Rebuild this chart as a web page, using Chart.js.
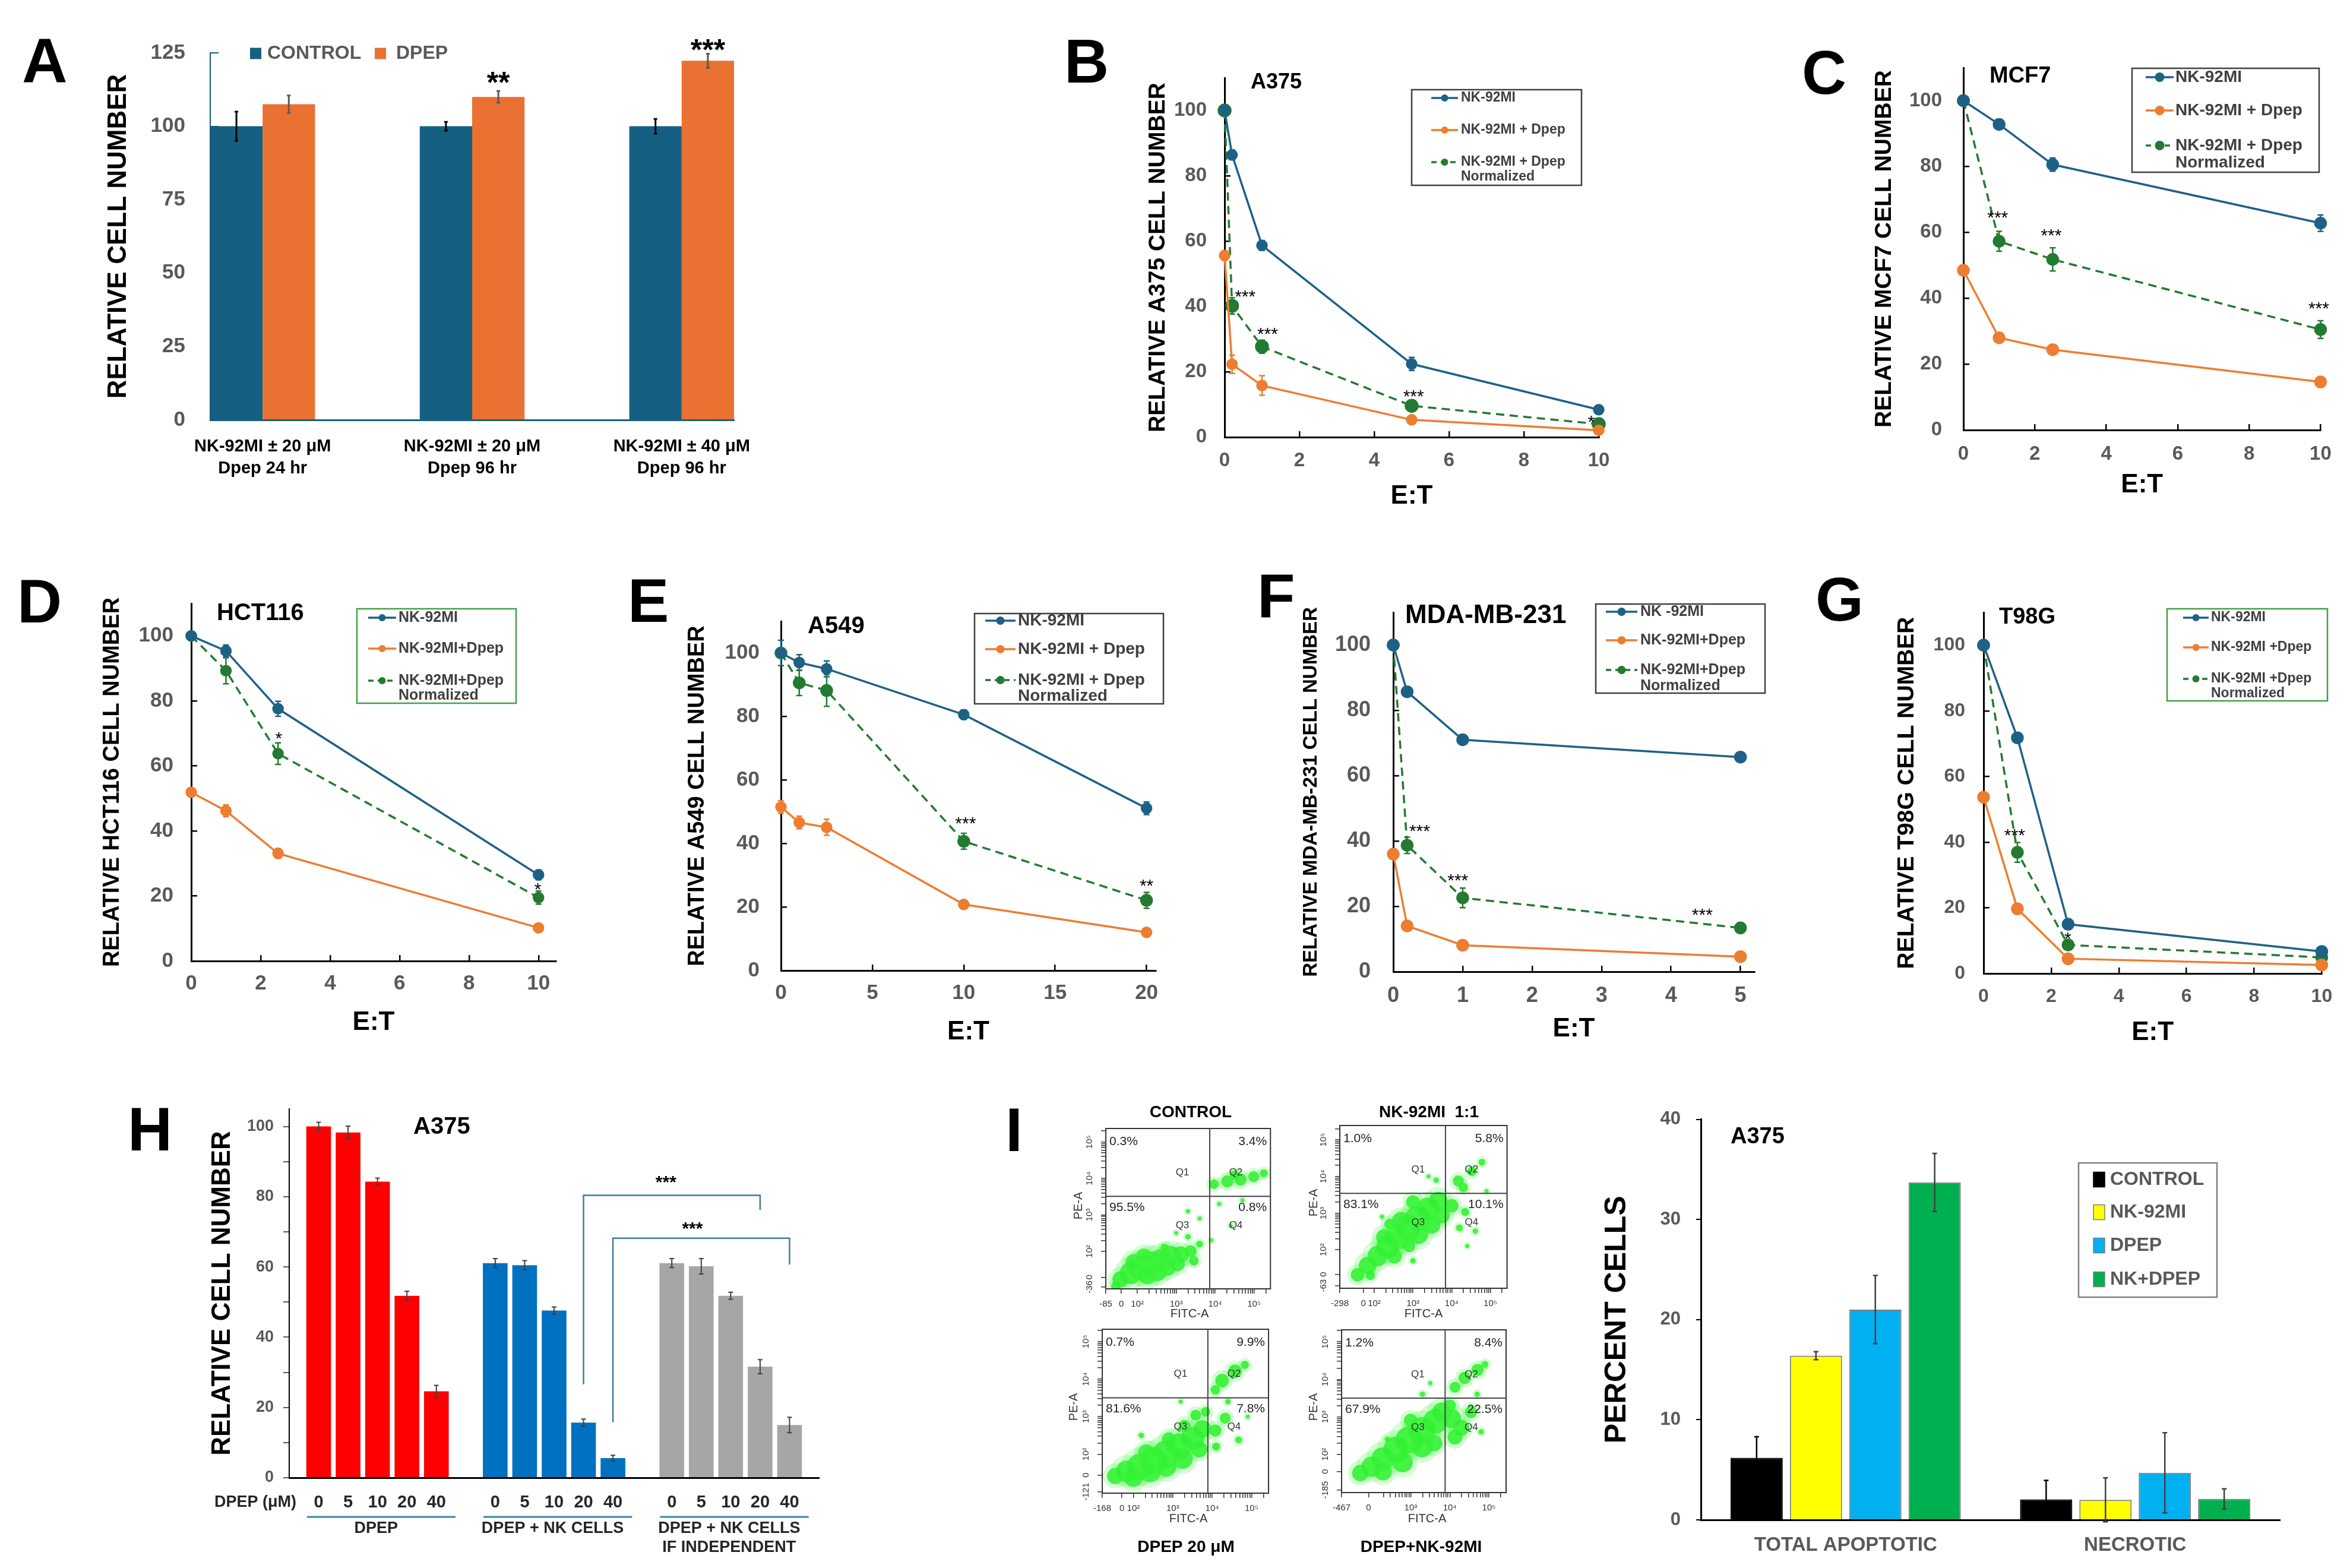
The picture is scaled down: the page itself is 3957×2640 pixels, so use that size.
<!DOCTYPE html>
<html><head><meta charset="utf-8"><title>Figure</title>
<script src="https://cdn.jsdelivr.net/npm/chart.js@4.4.1/dist/chart.umd.min.js"></script>
<style>
html,body{margin:0;padding:0;background:#fff;}
#fig{position:relative;width:3957px;height:2640px;background:#fff;overflow:hidden;}
#fig canvas{position:absolute;}
</style></head><body><div id="fig"></div>
<script>
// ======================= DATA =======================
// ---- Panel A ----
const aCategories = [['NK-92MI ± 20 μM','Dpep 24 hr'],['NK-92MI ± 20 μM','Dpep 96 hr'],['NK-92MI ± 40 μM','Dpep 96 hr']];
const aSeriesNames = ['CONTROL','DPEP'];
const aControl = [100, 100, 100];
const aControlErr = [5, 1.5, 2.5];
const aDpep = [107.5, 110, 122.3];
const aDpepErr = [3, 2, 2.4];
const aStars = [{x:1.125, y:116.5, t:'**'}, {x:2.125, y:127.6, t:'***'}];

// ---- Panel B (A375) ----
const bX = [0, 0.2, 1, 5, 10];
const bNK = [100, 86.4, 58.7, 22.4, 8.4];
const bNKErr = [0, 1.5, 1.5, 2, 1];
const bNKD = [55.6, 22.3, 15.8, 5.3, 2.1];
const bNKDErr = [1.5, 2.8, 3, 1, 0.5];
const bNorm = [100, 40.2, 27.7, 9.6, 4.0];
const bNormErr = [0, 2.5, 2, 1, 1];
const bLegend = [['NK-92MI'], ['NK-92MI + Dpep'], ['NK-92MI + Dpep', 'Normalized']];
const bStars = [{x:0.55, y:44, t:'***'}, {x:1.15, y:32.5, t:'***'}, {x:5.05, y:13.5, t:'***'}, {x:9.8, y:5.7, t:'*'}];

// ---- Panel C (MCF7) ----
const cX = [0, 1, 2.5, 10];
const cNK = [100, 92.8, 80.6, 62.8];
const cNKErr = [0, 1.5, 2, 2.5];
const cNKD = [48.5, 28, 24.4, 14.6];
const cNKDErr = [1, 1, 1.2, 0.8];
const cNorm = [100, 57.3, 51.8, 30.5];
const cNormErr = [0, 3, 3.5, 2.7];
const cLegend = [['NK-92MI'], ['NK-92MI + Dpep'], ['NK-92MI + Dpep', 'Normalized']];
const cStars = [{x:0.96, y:65.4, t:'***'}, {x:2.46, y:60.1, t:'***'}, {x:9.95, y:37.9, t:'***'}];

// ---- Panel D (HCT116) ----
const dX = [0, 1, 2.5, 10];
const dNK = [100, 95.4, 77.6, 26.5];
const dNKErr = [0, 1.8, 2.3, 1.5];
const dNKD = [51.9, 46.2, 33.1, 10.2];
const dNKDErr = [0.8, 1.8, 1.5, 0.8];
const dNorm = [100, 89.3, 63.8, 19.5];
const dNormErr = [0, 4, 3.3, 2];
const dLegend = [['NK-92MI'], ['NK-92MI+Dpep'], ['NK-92MI+Dpep', 'Normalized']];
const dStars = [{x:2.52, y:69.5, t:'*'}, {x:9.98, y:23, t:'*'}];

// ---- Panel E (A549) ----
const eX = [0, 1, 2.5, 10, 20];
const eNK = [100, 97, 95, 80.6, 51.1];
const eNKErr = [4, 2.5, 2.5, 1.5, 2];
const eNKD = [51.5, 46.6, 45.1, 20.8, 12];
const eNKDErr = [2, 2, 2.5, 1, 0.8];
const eNorm = [100, 90.6, 88.2, 40.7, 22.1];
const eNormErr = [0, 4, 5, 2.5, 2.5];
const eLegend = [['NK-92MI'], ['NK-92MI + Dpep'], ['NK-92MI + Dpep', 'Normalized']];
const eStars = [{x:10.1, y:47.3, t:'***'}, {x:20, y:27.7, t:'**'}];

// ---- Panel F (MDA-MB-231) ----
const fX = [0, 0.2, 1, 5];
const fNK = [100, 85.7, 71, 65.7];
const fNKErr = [0, 1.5, 0.8, 0.8];
const fNKD = [36, 14, 8.1, 4.6];
const fNKDErr = [1.5, 0.8, 0.8, 0.5];
const fNorm = [100, 38.7, 22.6, 13.4];
const fNormErr = [0, 2.5, 3, 1.5];
const fLegend = [['NK -92MI'], ['NK-92MI+Dpep'], ['NK-92MI+Dpep', 'Normalized']];
const fStars = [{x:0.38, y:43.9, t:'***'}, {x:0.93, y:28.8, t:'***'}, {x:4.45, y:18.3, t:'***'}];

// ---- Panel G (T98G) ----
const gX = [0, 1, 2.5, 10];
const gNK = [100, 71.8, 15, 6.7];
const gNKErr = [0, 1.5, 1, 0.8];
const gNKD = [53.7, 19.7, 4.5, 2.6];
const gNKDErr = [1, 1.5, 0.8, 0.5];
const gNorm = [100, 36.9, 8.7, 4.9];
const gNormErr = [0, 3, 1, 1];
const gLegend = [['NK-92MI'], ['NK-92MI +Dpep'], ['NK-92MI +Dpep', 'Normalized']];
const gStars = [{x:0.92, y:43, t:'***'}, {x:2.49, y:11.6, t:'*'}];

// ---- Panel H ----
const hDoses = ['0', '5', '10', '20', '40'];
const hGroupNames = [['DPEP'], ['DPEP + NK CELLS'], ['DPEP + NK CELLS', 'IF INDEPENDENT']];
const hDpep = [100, 98.3, 84.3, 51.8, 24.6];
const hDpepErr = [1.2, 1.8, 1, 1.3, 1.7];
const hDpepNK = [61.1, 60.5, 47.6, 15.7, 5.6];
const hDpepNKErr = [1.3, 1.3, 1, 1, 0.8];
const hIndep = [61.1, 60.2, 51.8, 31.6, 15.0];
const hIndepErr = [1.3, 2.2, 1, 2, 2.2];
const hBrackets = [{x1:9, y1:26.6, top:80.4, x2:15, y2:76.2}, {x1:10, y1:15.8, top:68.2, x2:16, y2:60.7}];
const hStars = [{x:11.8, y:85, t:'***'}, {x:12.7, y:71.9, t:'***'}];

// ---- Panel I (flow cytometry) ----
const flowPctCtrl = ['0.3%', '3.4%', '95.5%', '0.8%'];
const flowPctNK = ['1.0%', '5.8%', '83.1%', '10.1%'];
const flowPctDpep = ['0.7%', '9.9%', '81.6%', '7.8%'];
const flowPctCombo = ['1.2%', '8.4%', '67.9%', '22.5%'];
const flowXTicksCtrl = ['-85', '0', '10²', '10³', '10⁴', '10⁵'];
const flowYTicksCtrl = ['-36', '0', '10²', '10³', '10⁴', '10⁵'];
const flowXTicksNK = ['-298', '0', '10²', '10³', '10⁴', '10⁵'];
const flowYTicksNK = ['-63', '0', '10²', '10³', '10⁴', '10⁵'];
const flowXTicksDpep = ['-168', '0', '10²', '10³', '10⁴', '10⁵'];
const flowYTicksDpep = ['-121', '0', '10²', '10³', '10⁴', '10⁵'];
const flowXTicksCombo = ['-467', '0', '10³', '10⁴', '10⁵'];
const flowYTicksCombo = ['-185', '0', '10²', '10³', '10⁴', '10⁵'];
// cloud blobs: [FITC-A decade, PE-A decade, blob radius]
const flowCloudCtrl = [
 [1.45,1.05,7],[1.57,1.23,12],[1.83,1.40,16],[2.09,1.53,18],[2.34,1.66,18],[2.60,1.74,17],[2.85,1.87,15],[3.11,1.91,12],[3.37,2.00,9],[1.91,1.70,12],[2.26,1.36,14],[2.51,1.44,14],[2.77,1.57,13],[2.17,1.87,11],[3.03,1.66,11],[3.45,1.74,7],[3.60,2.20,5],[3.30,2.40,4],[2.70,2.10,6],
 [3.97,3.84,7],[4.31,3.92,9],[4.65,3.97,9],[4.99,4.05,8],[5.25,4.14,6],[4.50,4.09,7],
 [3.60,2.90,3],[4.10,3.30,3],[3.30,3.10,3],[4.40,2.70,3],[3.90,2.30,3],[3.00,2.50,3],[4.70,3.40,3]];
const flowCloudNK = [
 [1.57,1.32,10],[1.83,1.57,13],[2.09,1.83,15],[2.35,2.09,17],[2.61,2.34,18],[2.87,2.60,19],[3.13,2.85,19],[3.39,3.11,17],[3.65,3.32,14],[2.26,2.34,12],[2.70,2.77,14],[3.13,2.43,15],[3.48,2.68,13],[2.52,1.83,11],[3.74,2.94,12],[4.00,3.20,10],[1.90,1.30,7],[2.90,2.10,9],[2.40,2.70,8],[3.00,3.30,10],
 [4.17,3.88,8],[4.52,4.14,7],[4.78,4.39,5],[4.30,3.70,7],
 [4.35,3.03,6],[4.61,2.51,4],[4.20,2.60,5],
 [3.60,3.90,4],[4.90,3.60,3],[3.40,4.00,3],[4.40,2.10,3],[2.20,2.90,3],[3.00,1.70,4]];
const flowCloudDpep = [
 [1.54,1.42,12],[1.83,1.54,16],[2.17,1.67,19],[2.50,1.83,20],[2.83,2.00,20],[3.17,2.21,19],[3.50,2.42,17],[3.75,2.67,13],[2.00,1.38,14],[2.42,1.54,16],[2.83,1.67,15],[3.25,1.88,15],[2.33,2.04,12],[3.67,2.13,12],[3.83,3.13,7],[3.58,3.04,8],[3.30,2.75,9],[2.90,2.40,10],
 [4.08,2.63,9],[4.33,2.96,8],[4.67,2.38,5],[4.10,2.20,6],
 [4.25,3.96,10],[4.58,4.21,10],[4.83,4.38,6],[4.08,3.71,7],
 [4.90,3.00,3],[3.20,3.40,3],[4.40,3.40,4],[2.20,2.50,4]];
const flowCloudCombo = [
 [1.71,1.50,12],[2.00,1.67,15],[2.29,1.88,17],[2.63,2.13,19],[2.96,2.38,20],[3.29,2.63,20],[3.63,2.88,18],[3.79,3.13,14],[2.29,1.54,13],[2.79,1.79,15],[3.29,2.21,16],[4.04,2.96,14],[4.29,2.71,12],[4.13,2.46,11],[4.54,3.13,9],[3.00,2.90,10],[3.60,2.30,12],[4.00,3.30,9],
 [4.38,4.04,9],[4.71,4.25,9],[4.13,3.79,8],[4.90,4.40,5],
 [3.30,3.60,4],[4.80,2.60,4],[4.70,3.60,4],[2.40,2.40,4],[3.50,3.90,3]];

// ---- Panel I (bar chart) ----
const iCategories = ['TOTAL APOPTOTIC', 'NECROTIC'];
const iSeriesNames = ['CONTROL', 'NK-92MI', 'DPEP', 'NK+DPEP'];
const iControl = [6.2, 2.05];
const iControlErr = [2.1, 1.9];
const iNK = [16.4, 2.0];
const iNKErr = [0.4, 2.2];
const iDpep = [21.0, 4.7];
const iDpepErr = [3.4, 4.0];
const iNKDpep = [33.7, 2.1];
const iNKDpepErr = [2.9, 1.0];

// ======================= HELPERS =======================
const FONT = "'Liberation Sans', Arial, Helvetica, sans-serif";
const TICK = '#595959';
const BLUE = '#1e6186', ORANGE = '#ed7d31', GREEN = '#237a30';
function f(size, weight) { return {family: FONT, size: size, weight: weight || 'bold', lineHeight: 1.2}; }

function makeCanvas(r) {
  const c = document.createElement('canvas');
  c.width = r[2]; c.height = r[3];
  c.style.left = r[0] + 'px'; c.style.top = r[1] + 'px';
  c.style.width = r[2] + 'px'; c.style.height = r[3] + 'px';
  document.getElementById('fig').appendChild(c);
  return c;
}

function base(C, A, scales) {
  const cl = C[0], ct = C[1], cw = C[2], ch = C[3];
  scales.x.afterFit = function (s) { s.height = ct + ch - A[3]; };
  scales.y.afterFit = function (s) { s.width = A[0] - cl; };
  return {
    responsive: false, maintainAspectRatio: false, animation: false, devicePixelRatio: 1, events: [],
    layout: {padding: {left: 0, top: A[1] - ct, right: cl + cw - A[2], bottom: 0}},
    scales: scales,
    plugins: {legend: {display: false}, tooltip: {enabled: false}}
  };
}

function textPlugin(C, items) {
  return {id: 'pageText', afterDraw(chart) {
    const ctx = chart.ctx;
    items.forEach(it => {
      ctx.save();
      ctx.font = (it.weight || 'bold') + ' ' + it.size + 'px ' + FONT;
      ctx.fillStyle = it.color || '#000';
      ctx.textAlign = it.align || 'left';
      ctx.textBaseline = it.baseline || 'middle';
      ctx.translate(it.x - C[0], it.y - C[1]);
      if (it.rot) ctx.rotate(it.rot);
      ctx.fillText(it.t, 0, 0);
      ctx.restore();
    });
  }};
}

function errorBarsPlugin(layer) {
  const draw = function (chart) {
    const ctx = chart.ctx;
    chart.data.datasets.forEach((ds, i) => {
      if (!ds.errors) return;
      const meta = chart.getDatasetMeta(i);
      const ys = chart.scales[meta.yAxisID];
      ctx.save();
      ctx.strokeStyle = ds.errColor || '#000';
      ctx.lineWidth = ds.errWidth || 2;
      const cap = ds.errCap || 5;
      meta.data.forEach((el, j) => {
        const e = ds.errors[j];
        if (!e) return;
        const v = meta.controller.getParsed(j).y;
        const y1 = ys.getPixelForValue(v + e), y2 = ys.getPixelForValue(v - e), x = el.x;
        ctx.beginPath();
        ctx.moveTo(x, y1); ctx.lineTo(x, y2);
        ctx.moveTo(x - cap, y1); ctx.lineTo(x + cap, y1);
        ctx.moveTo(x - cap, y2); ctx.lineTo(x + cap, y2);
        ctx.stroke();
      });
      ctx.restore();
    });
  };
  return layer === 'before' ? {id: 'errbars', beforeDatasetsDraw: draw} : {id: 'errbars', afterDatasetsDraw: draw};
}

function starsPlugin(items, size, weight) {
  return {id: 'stars', afterDatasetsDraw(chart) {
    const ctx = chart.ctx, xs = chart.scales.x, ys = chart.scales.y;
    ctx.save();
    ctx.font = weight + ' ' + size + 'px ' + FONT;
    ctx.fillStyle = '#000'; ctx.textAlign = 'center'; ctx.textBaseline = 'middle';
    items.forEach(it => ctx.fillText(it.t, xs.getPixelForValue(it.x), ys.getPixelForValue(it.y) + size * 0.22));
    ctx.restore();
  }};
}

function lineLegendPlugin(C, L) {
  return {id: 'lineLegend', afterDraw(chart) {
    const ctx = chart.ctx;
    ctx.save();
    ctx.translate(-C[0], -C[1]);
    const b = L.box;
    ctx.fillStyle = '#fff';
    ctx.fillRect(b[0], b[1], b[2] - b[0], b[3] - b[1]);
    ctx.strokeStyle = L.border; ctx.lineWidth = 2.5;
    ctx.strokeRect(b[0], b[1], b[2] - b[0], b[3] - b[1]);
    chart.data.datasets.forEach((ds, i) => {
      const y = L.rows[i];
      ctx.strokeStyle = ds.borderColor; ctx.lineWidth = 3.5;
      ctx.setLineDash(ds.borderDash && ds.borderDash.length ? [9, 7] : []);
      ctx.beginPath(); ctx.moveTo(L.sx0, y); ctx.lineTo(L.sx1, y); ctx.stroke();
      ctx.setLineDash([]);
      ctx.fillStyle = ds.backgroundColor;
      ctx.beginPath(); ctx.arc((L.sx0 + L.sx1) / 2, y, L.mr, 0, Math.PI * 2); ctx.fill();
      ctx.fillStyle = '#404040';
      ctx.font = 'bold ' + L.size + 'px ' + FONT;
      ctx.textAlign = 'left'; ctx.textBaseline = 'middle';
      ds.legendLines.forEach((t, k) => ctx.fillText(t, L.tx, y + k * L.dy));
    });
    ctx.restore();
  }};
}

function squareLegendPlugin(C, L) {
  return {id: 'sqLegend', afterDraw(chart) {
    const ctx = chart.ctx;
    ctx.save();
    ctx.translate(-C[0], -C[1]);
    if (L.box) {
      const b = L.box;
      ctx.fillStyle = '#fff'; ctx.fillRect(b[0], b[1], b[2] - b[0], b[3] - b[1]);
      ctx.strokeStyle = L.border; ctx.lineWidth = 2.5;
      ctx.strokeRect(b[0], b[1], b[2] - b[0], b[3] - b[1]);
    }
    L.items.forEach(it => {
      const ds = chart.data.datasets[it.ds];
      ctx.fillStyle = ds.backgroundColor;
      ctx.fillRect(it.sx, it.y - it.sh / 2, it.sw, it.sh);
      if (ds.borderWidth) {
        ctx.strokeStyle = ds.borderColor; ctx.lineWidth = 1.5;
        ctx.strokeRect(it.sx, it.y - it.sh / 2, it.sw, it.sh);
      }
      ctx.fillStyle = L.color;
      ctx.font = 'bold ' + L.size + 'px ' + FONT;
      ctx.textAlign = 'left'; ctx.textBaseline = 'middle';
      ctx.fillText(ds.label, it.tx, it.y);
    });
    ctx.restore();
  }};
}

// ======================= PANEL A =======================
(function () {
  const C = [0, 0, 1320, 850], A = [354, 89, 1236, 707];
  const cv = makeCanvas(C);
  const mk = (name, vals, errs, color, errColor) => ({
    label: name, data: vals.map((y, i) => ({x: i, y: y})), backgroundColor: color,
    errors: errs, errColor: errColor, errWidth: 3, errCap: 3, categoryPercentage: 0.5, barPercentage: 1
  });
  new Chart(cv, {
    type: 'bar',
    data: {datasets: [mk(aSeriesNames[0], aControl, aControlErr, '#156082', '#000'), mk(aSeriesNames[1], aDpep, aDpepErr, '#e97132', '#595959')]},
    options: base(C, A, {
      x: {type: 'linear', min: -0.25, max: 2.25, offset: false,
          afterBuildTicks(s) { s.ticks = aCategories.map((c, i) => ({value: i})); },
          ticks: {autoSkip: false, maxRotation: 0, color: '#000', font: {family: FONT, size: 29, weight: 'bold', lineHeight: 1.28}, padding: 26, callback: (v, i) => aCategories[i]},
          grid: {offset: false, drawOnChartArea: false, drawTicks: false}, border: {color: '#156082', width: 3}},
      y: {min: 0, max: 125, ticks: {stepSize: 25, color: TICK, font: f(35), padding: 56},
          grid: {drawOnChartArea: false, tickLength: -14, color: '#156082', lineWidth: 2}, border: {color: '#156082', width: 2},
          title: {display: true, text: 'RELATIVE CELL NUMBER', color: '#000', font: f(44), padding: {top: 200 - C[0] - 0.6 * 44, bottom: 0}}}
    }),
    plugins: [errorBarsPlugin('after'), starsPlugin(aStars, 50, 'bold'),
      squareLegendPlugin(C, {items: [{ds: 0, sx: 421, y: 90, sw: 19, sh: 19, tx: 450}, {ds: 1, sx: 631, y: 90, sw: 19, sh: 19, tx: 667}], size: 32, color: TICK}),
      textPlugin(C, [{t: 'A', x: 37, y: 139, size: 106, baseline: 'alphabetic'}])]
  });
})();

// ======================= LINE PANELS B–G =======================
function linePanel(L, D) {
  const C = L.canvas, A = L.area;
  const cv = makeCanvas(C);
  const mk = (ys, errs, color, dashed, r, lines) => ({
    data: D.x.map((x, i) => ({x: x, y: ys[i]})), errors: errs,
    borderColor: color, backgroundColor: color, pointBackgroundColor: color, pointBorderColor: color,
    borderWidth: 3.5, borderDash: dashed ? [14, 9] : [], pointRadius: r, pointHoverRadius: r, tension: 0,
    errColor: color, errWidth: 2.5, errCap: 5, clip: false, legendLines: lines
  });
  new Chart(cv, {
    type: 'line',
    data: {datasets: [mk(D.nk, D.nkErr, BLUE, false, L.r, D.legend[0]), mk(D.nkd, D.nkdErr, ORANGE, false, L.r, D.legend[1]), mk(D.norm, D.normErr, GREEN, true, L.rg, D.legend[2])]},
    options: base(C, A, {
      x: {type: 'linear', min: 0, max: L.xMax,
          ticks: {stepSize: L.xStep, includeBounds: false, autoSkip: false, maxRotation: 0, color: TICK, font: f(L.tick), padding: L.xGap + 10 - 0.6 * L.tick},
          grid: {drawOnChartArea: false, tickLength: -10, color: '#000', lineWidth: 2.5}, border: {color: '#000', width: 3},
          title: {display: true, text: 'E:T', color: '#000', font: f(44), padding: {top: 0, bottom: C[1] + C[3] - L.xTitleY - 0.6 * 44}}},
      y: {min: 0, max: 110,
          ticks: {stepSize: 20, includeBounds: false, color: TICK, font: f(L.tick), padding: L.yGap + 10},
          grid: {drawOnChartArea: false, tickLength: -10, color: '#000', lineWidth: 2.5}, border: {color: '#000', width: 3},
          title: {display: true, text: L.yTitle, color: '#000', font: f(L.yTitleSize), padding: {top: L.yTitleX - C[0] - 0.6 * L.yTitleSize, bottom: 0}}}
    }),
    plugins: [errorBarsPlugin('before'), starsPlugin(D.stars, 30, 'normal'), lineLegendPlugin(C, L.legend), textPlugin(C, L.texts)]
  });
}
const letter = (t, x, y) => ({t: t, x: x, y: y, size: 104, baseline: 'alphabetic'});

linePanel({canvas: [1760, 40, 1000, 830], area: [2062, 131, 2692, 736], xMax: 10, xStep: 2, tick: 33, yGap: 30, xGap: 40,
  yTitle: 'RELATIVE A375 CELL NUMBER', yTitleSize: 39, yTitleX: 1950, xTitleY: 836, r: 8, rg: 10,
  legend: {box: [2377, 151, 2663, 312], border: '#404040', sx0: 2410, sx1: 2455, tx: 2460, rows: [165, 219, 273], dy: 25, size: 23, mr: 6},
  texts: [letter('B', 1792, 139), {t: 'A375', x: 2106, y: 139, size: 36}]},
  {x: bX, nk: bNK, nkErr: bNKErr, nkd: bNKD, nkdErr: bNKDErr, norm: bNorm, normErr: bNormErr, legend: bLegend, stars: bStars});

linePanel({canvas: [3010, 40, 947, 830], area: [3306, 114, 3908, 724], xMax: 10, xStep: 2, tick: 33, yGap: 36, xGap: 41,
  yTitle: 'RELATIVE MCF7 CELL NUMBER', yTitleSize: 39, yTitleX: 3173, xTitleY: 817, r: 9, rg: 9,
  legend: {box: [3590, 115, 3905, 290], border: '#404040', sx0: 3613, sx1: 3660, tx: 3663, rows: [130, 186, 245], dy: 29, size: 28, mr: 8},
  texts: [letter('C', 3034, 158), {t: 'MCF7', x: 3350, y: 129, size: 38}]},
  {x: cX, nk: cNK, nkErr: cNKErr, nkd: cNKD, nkdErr: cNKDErr, norm: cNorm, normErr: cNormErr, legend: cLegend, stars: cStars});

linePanel({canvas: [0, 950, 980, 820], area: [322, 1016, 936, 1618], xMax: 10.5, xStep: 2, tick: 35, yGap: 30, xGap: 38,
  yTitle: 'RELATIVE HCT116 CELL NUMBER', yTitleSize: 38, yTitleX: 190, xTitleY: 1722, r: 8, rg: 8,
  legend: {box: [601, 1025, 869, 1184], border: '#43a047', sx0: 620, sx1: 667, tx: 671, rows: [1040, 1092, 1146], dy: 25, size: 25, mr: 6},
  texts: [letter('D', 29, 1048), {t: 'HCT116', x: 365, y: 1033, size: 40}]},
  {x: dX, nk: dNK, nkErr: dNKErr, nkd: dNKD, nkdErr: dNKDErr, norm: dNorm, normErr: dNormErr, legend: dLegend, stars: dStars});

linePanel({canvas: [1020, 950, 1000, 820], area: [1315, 1046, 1946, 1634], xMax: 20.5, xStep: 5, tick: 35, yGap: 36, xGap: 38,
  yTitle: 'RELATIVE A549 CELL NUMBER', yTitleSize: 38, yTitleX: 1175, xTitleY: 1738, r: 8, rg: 9,
  legend: {box: [1641, 1033, 1959, 1185], border: '#404040', sx0: 1659, sx1: 1710, tx: 1714, rows: [1045, 1093, 1145], dy: 27, size: 28, mr: 7},
  texts: [letter('E', 1057, 1047), {t: 'A549', x: 1360, y: 1055, size: 40}]},
  {x: eX, nk: eNK, nkErr: eNKErr, nkd: eNKD, nkdErr: eNKDErr, norm: eNorm, normErr: eNormErr, legend: eLegend, stars: eStars});

linePanel({canvas: [2090, 950, 920, 820], area: [2346, 1031, 2954, 1636], xMax: 5.2, xStep: 1, tick: 36, yGap: 38, xGap: 41,
  yTitle: 'RELATIVE MDA-MB-231 CELL NUMBER', yTitleSize: 33, yTitleX: 2208, xTitleY: 1733, r: 9, rg: 9,
  legend: {box: [2687, 1017, 2972, 1167], border: '#404040', sx0: 2704, sx1: 2757, tx: 2762, rows: [1030, 1078, 1128], dy: 27, size: 25, mr: 7},
  texts: [letter('F', 2117, 1039), {t: 'MDA-MB-231', x: 2366, y: 1037, size: 44}]},
  {x: fX, nk: fNK, nkErr: fNKErr, nkd: fNKD, nkdErr: fNKDErr, norm: fNorm, normErr: fNormErr, legend: fLegend, stars: fStars});

linePanel({canvas: [3030, 950, 927, 820], area: [3340, 1031, 3920, 1639], xMax: 10, xStep: 2, tick: 32, yGap: 31, xGap: 39,
  yTitle: 'RELATIVE T98G CELL NUMBER', yTitleSize: 39, yTitleX: 3211, xTitleY: 1739, r: 9, rg: 9,
  legend: {box: [3649, 1025, 3919, 1180], border: '#43a047', sx0: 3676, sx1: 3719, tx: 3723, rows: [1040, 1090, 1143], dy: 25, size: 23, mr: 6},
  texts: [letter('G', 3057, 1045), {t: 'T98G', x: 3366, y: 1040, size: 38}]},
  {x: gX, nk: gNK, nkErr: gNKErr, nkd: gNKD, nkdErr: gNKDErr, norm: gNorm, normErr: gNormErr, legend: gLegend, stars: gStars});

// ======================= PANEL H =======================
(function () {
  const C = [190, 1800, 1230, 840], A = [487, 1867, 1379, 2488];
  const cv = makeCanvas(C);
  const groups = [[hDpep, hDpepErr, '#ff0000'], [hDpepNK, hDpepNKErr, '#0070c0'], [hIndep, hIndepErr, '#a6a6a6']];
  const slots = [];
  groups.forEach((g, gi) => hDoses.forEach((d, i) => slots.push(gi * 6 + i)));
  const hPlugin = {id: 'hExtras', afterDatasetsDraw(chart) {
    const ctx = chart.ctx, xs = chart.scales.x, ys = chart.scales.y;
    ctx.save();
    ctx.strokeStyle = '#3b7d9c'; ctx.lineWidth = 2.5;
    hBrackets.forEach(b => {
      ctx.beginPath();
      ctx.moveTo(xs.getPixelForValue(b.x1), ys.getPixelForValue(b.y1));
      ctx.lineTo(xs.getPixelForValue(b.x1), ys.getPixelForValue(b.top));
      ctx.lineTo(xs.getPixelForValue(b.x2), ys.getPixelForValue(b.top));
      ctx.lineTo(xs.getPixelForValue(b.x2), ys.getPixelForValue(b.y2));
      ctx.stroke();
    });
    ctx.strokeStyle = '#3b86a8'; ctx.lineWidth = 3;
    ctx.fillStyle = '#262626'; ctx.font = 'bold 27px ' + FONT; ctx.textAlign = 'center'; ctx.textBaseline = 'middle';
    hGroupNames.forEach((lines, g) => {
      ctx.beginPath();
      ctx.moveTo(xs.getPixelForValue(g * 6 - 0.4), 2554 - C[1]);
      ctx.lineTo(xs.getPixelForValue(g * 6 + 4.65), 2554 - C[1]);
      ctx.stroke();
      lines.forEach((t, k) => ctx.fillText(t, xs.getPixelForValue(g * 6 + 1.95), 2574 - C[1] + k * 32));
    });
    ctx.restore();
  }};
  new Chart(cv, {
    type: 'bar',
    data: {datasets: groups.map((g, gi) => ({
      data: g[0].map((y, i) => ({x: gi * 6 + i, y: y})), backgroundColor: g[2],
      errors: g[1], errColor: '#404040', errWidth: 2, errCap: 4, grouped: false, barPercentage: 0.84, categoryPercentage: 1
    }))},
    options: base(C, A, {
      x: {type: 'linear', min: -1, max: 17, offset: false,
          afterBuildTicks(s) { s.ticks = slots.map(v => ({value: v})); },
          ticks: {autoSkip: false, maxRotation: 0, color: '#262626', font: f(29), padding: 25, callback: (v, i) => hDoses[i % 5]},
          grid: {offset: false, drawOnChartArea: false, drawTicks: false}, border: {color: '#000', width: 3}},
      y: {min: 0, max: 105,
          ticks: {stepSize: 10, includeBounds: false, color: TICK, font: f(27), padding: 16, callback: v => (v % 20 === 0 ? String(v) : '')},
          grid: {drawOnChartArea: false, tickLength: 10, color: '#595959', lineWidth: 2}, border: {color: '#000', width: 2},
          title: {display: true, text: 'RELATIVE CELL NUMBER', color: '#000', font: f(44), padding: {top: 375 - C[0] - 0.6 * 44, bottom: 0}}}
    }),
    plugins: [errorBarsPlugin('after'), hPlugin, starsPlugin(hStars, 30, 'bold'),
      textPlugin(C, [letter('H', 215, 1937), {t: 'A375', x: 696, y: 1898, size: 40},
        {t: 'DPEP (μM)', x: 430, y: 2530, size: 27, align: 'center', color: '#262626'}])]
  });
})();

// ======================= PANEL I: FLOW PLOTS =======================
function logTicks(major, max) {
  const t = major.slice();
  for (let n = 2; n <= 5; n++) for (let k = 2; k <= 9; k++) { const v = n + Math.log10(k); if (v < max) t.push(v); }
  return t.sort((a, b) => a - b).map(v => ({value: v}));
}
function flowPanel(L, P) {
  const C = L.canvas, A = L.area;
  const cv = makeCanvas(C);
  const fp = {id: 'flow', afterDatasetsDraw(chart) {
    const ctx = chart.ctx, xs = chart.scales.x, ys = chart.scales.y, a = chart.chartArea;
    ctx.save();
    ctx.strokeStyle = '#333'; ctx.lineWidth = 2;
    ctx.strokeRect(a.left, a.top, a.right - a.left, a.bottom - a.top);
    const gx = xs.getPixelForValue(P.gateX), gy = ys.getPixelForValue(P.gateY);
    ctx.strokeStyle = '#444';
    ctx.beginPath(); ctx.moveTo(gx, a.top); ctx.lineTo(gx, a.bottom); ctx.moveTo(a.left, gy); ctx.lineTo(a.right, gy); ctx.stroke();
    ctx.fillStyle = '#222'; ctx.font = '21px ' + FONT; ctx.textBaseline = 'middle';
    ctx.textAlign = 'left'; ctx.fillText(P.pct[0], a.left + 6, a.top + 22); ctx.fillText(P.pct[2], a.left + 6, gy + 19);
    ctx.textAlign = 'right'; ctx.fillText(P.pct[1], a.right - 6, a.top + 22); ctx.fillText(P.pct[3], a.right - 6, gy + 19);
    ctx.fillStyle = '#333'; ctx.font = '17px ' + FONT; ctx.textAlign = 'center';
    ctx.fillText('Q1', gx - 46, gy - 40); ctx.fillText('Q2', gx + 44, gy - 40);
    ctx.fillText('Q3', gx - 46, gy + 49); ctx.fillText('Q4', gx + 44, gy + 49);
    ctx.font = '15px ' + FONT;
    P.yTickVals.forEach((v, k) => {
      ctx.save(); ctx.translate(a.left - 27, ys.getPixelForValue(v)); ctx.rotate(-Math.PI / 2);
      ctx.fillText(P.yTickLabels[k], 0, 0); ctx.restore();
    });
    ctx.restore();
  }};
  new Chart(cv, {
    type: 'bubble',
    data: {datasets: [
      {data: P.cloud.map(p => ({x: p[0], y: p[1], r: p[2] * 1.6 + 2})), backgroundColor: 'rgba(70,245,70,0.22)', borderWidth: 0},
      {data: P.cloud.map(p => ({x: p[0], y: p[1], r: p[2] * 1.15})), backgroundColor: 'rgba(35,238,35,0.85)', borderWidth: 0}
    ]},
    options: base(C, A, {
      x: {type: 'linear', min: P.xMin, max: P.xMax,
          afterBuildTicks(s) { s.ticks = logTicks(P.xTickVals, s.max); },
          ticks: {autoSkip: false, maxRotation: 0, color: '#333', font: f(15, 'normal'), padding: 9,
                  callback: v => { const k = P.xTickVals.indexOf(v); return k < 0 ? '' : P.xTickLabels[k]; }},
          grid: {drawOnChartArea: false, tickLength: 8, color: '#333', lineWidth: 1.5}, border: {display: false}},
      y: {type: 'linear', min: P.yMin, max: P.yMax,
          afterBuildTicks(s) { s.ticks = logTicks(P.yTickVals, s.max); },
          ticks: {display: false},
          grid: {drawOnChartArea: false, tickLength: 8, color: '#333', lineWidth: 1.5}, border: {display: false}}
    }),
    plugins: [fp, textPlugin(C, L.texts)]
  });
}
flowPanel({canvas: [1680, 1840, 490, 400], area: [1862, 1900, 2147, 2170],
  texts: [{t: 'I', x: 1693, y: 1938, size: 104, baseline: 'alphabetic'}, {t: 'CONTROL', x: 2005, y: 1873, size: 28, align: 'center'},
          {t: 'FITC-A', x: 2003, y: 2212, size: 20, weight: 'normal', color: '#333', align: 'center'},
          {t: 'PE-A', x: 1816, y: 2030, size: 20, weight: 'normal', color: '#333', align: 'center', rot: -Math.PI / 2}]},
  {pct: flowPctCtrl, gateX: 3.86, gateY: 3.51, xMin: 1.19, xMax: 5.42, yMin: 0.97, yMax: 5.37,
   xTickVals: [1.19, 1.59, 2, 3, 4, 5], xTickLabels: flowXTicksCtrl, yTickVals: [1.02, 1.29, 2, 3, 4, 5], yTickLabels: flowYTicksCtrl, cloud: flowCloudCtrl});
flowPanel({canvas: [2175, 1840, 395, 400], area: [2256, 1895, 2543, 2169],
  texts: [{t: 'NK-92MI  1:1', x: 2406, y: 1873, size: 28, align: 'center'},
          {t: 'FITC-A', x: 2397, y: 2212, size: 20, weight: 'normal', color: '#333', align: 'center'},
          {t: 'PE-A', x: 2212, y: 2025, size: 20, weight: 'normal', color: '#333', align: 'center', rot: -Math.PI / 2}]},
  {pct: flowPctNK, gateX: 3.84, gateY: 3.54, xMin: 1.11, xMax: 5.43, yMin: 0.95, yMax: 5.39,
   xTickVals: [1.11, 1.72, 2, 3, 4, 5], xTickLabels: flowXTicksNK, yTickVals: [1.02, 1.33, 2, 3, 4, 5], yTickLabels: flowYTicksNK, cloud: flowCloudNK});
flowPanel({canvas: [1680, 2200, 490, 440], area: [1856, 2238, 2148, 2514],
  texts: [{t: 'DPEP 20 μM', x: 1997, y: 2605, size: 28, align: 'center'},
          {t: 'FITC-A', x: 2001, y: 2557, size: 20, weight: 'normal', color: '#333', align: 'center'},
          {t: 'PE-A', x: 1808, y: 2369, size: 20, weight: 'normal', color: '#333', align: 'center', rot: -Math.PI / 2}]},
  {pct: flowPctDpep, gateX: 3.89, gateY: 3.5, xMin: 1.21, xMax: 5.43, yMin: 0.96, yMax: 5.33,
   xTickVals: [1.21, 1.71, 2, 3, 4, 5], xTickLabels: flowXTicksDpep, yTickVals: [1.0, 1.44, 2, 3, 4, 5], yTickLabels: flowYTicksDpep, cloud: flowCloudDpep});
flowPanel({canvas: [2175, 2200, 395, 440], area: [2259, 2239, 2550, 2513],
  texts: [{t: 'DPEP+NK-92MI', x: 2393, y: 2605, size: 28, align: 'center'},
          {t: 'FITC-A', x: 2403, y: 2557, size: 20, weight: 'normal', color: '#333', align: 'center'},
          {t: 'PE-A', x: 2212, y: 2369, size: 20, weight: 'normal', color: '#333', align: 'center', rot: -Math.PI / 2}]},
  {pct: flowPctCombo, gateX: 3.88, gateY: 3.5, xMin: 1.23, xMax: 5.44, yMin: 0.98, yMax: 5.32,
   xTickVals: [1.23, 1.92, 3, 4, 5], xTickLabels: flowXTicksCombo, yTickVals: [1.05, 1.54, 2, 3, 4, 5], yTickLabels: flowYTicksCombo, cloud: flowCloudCombo});

// ======================= PANEL I: BAR CHART =======================
(function () {
  const C = [2660, 1840, 1240, 800], A = [2864, 1874, 3839, 2559];
  const cv = makeCanvas(C);
  const mk = (name, vals, errs, color, border, errColor) => ({label: name, data: vals, backgroundColor: color, borderColor: border, borderWidth: 2,
    errors: errs, errColor: errColor, errWidth: 2.5, errCap: 4});
  new Chart(cv, {
    type: 'bar',
    data: {labels: iCategories, datasets: [
      mk(iSeriesNames[0], iControl, iControlErr, '#000000', '#000000', '#000'),
      mk(iSeriesNames[1], iNK, iNKErr, '#ffff00', '#7f7f7f', '#404040'),
      mk(iSeriesNames[2], iDpep, iDpepErr, '#00b0f0', '#7f7f7f', '#404040'),
      mk(iSeriesNames[3], iNKDpep, iNKDpepErr, '#00b050', '#7f7f7f', '#404040')]},
    options: (function () {
      const o = base(C, A, {
        x: {ticks: {color: TICK, font: f(33), padding: 23}, grid: {drawOnChartArea: false, drawTicks: false}, border: {color: '#000', width: 3}},
        y: {min: 0, max: 40, ticks: {stepSize: 10, color: TICK, font: f(31), padding: 26},
            grid: {drawOnChartArea: false, tickLength: 8, color: '#000', lineWidth: 2}, border: {color: '#000', width: 3},
            title: {display: true, text: 'PERCENT CELLS', color: '#000', font: f(50), padding: {top: 2723 - C[0] - 30, bottom: 0}}}
      });
      o.datasets = {bar: {categoryPercentage: 0.82, barPercentage: 0.88}};
      return o;
    })(),
    plugins: [errorBarsPlugin('after'),
      squareLegendPlugin(C, {box: [3500, 1958, 3733, 2184], border: '#808080', size: 32, color: TICK,
        items: [1986, 2041, 2097, 2154].map((y, i) => ({ds: i, sx: 3525, y: y, sw: 19, sh: 25, tx: 3553}))}),
      textPlugin(C, [{t: 'A375', x: 2914, y: 1915, size: 38}])]
  });
})();
</script></body></html>
